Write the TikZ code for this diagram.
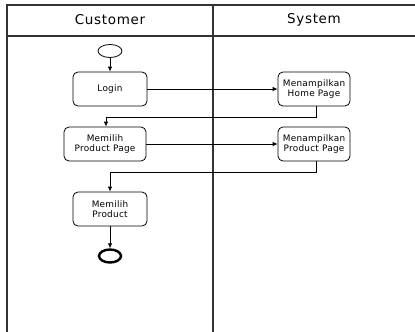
\documentclass[tikz,border=0pt]{standalone}
\usepackage{fontspec}
\setmainfont{DejaVu Sans}
\newfontfamily\hdrfont[LetterSpace=5]{DejaVu Sans}
\newfontfamily\nodefont[LetterSpace=3]{DejaVu Sans}
\usetikzlibrary{arrows.meta,shapes.geometric}
\tikzset{
  frame/.style={draw=black!80, line width=1.1pt},
  actbox/.style={draw=black, line width=0.8pt, rounded corners=5pt, minimum height=34pt, inner sep=1pt, align=center, font=\nodefont\fontsize{8.9}{9.8}\selectfont},
  hdr/.style={font=\hdrfont\fontsize{13.5}{15}\selectfont},
  arr/.style={draw=black, line width=0.8pt, -{Latex[length=5pt,width=4.5pt]}},
  startnode/.style={ellipse, draw=black, line width=0.8pt, minimum width=24pt, minimum height=13pt, inner sep=0pt},
  endnode/.style={ellipse, draw=black, line width=2.4pt, minimum width=22pt, minimum height=13pt, inner sep=0pt}
}
\begin{document}
\begin{tikzpicture}[x=1pt,y=-1pt]
\useasboundingbox (0,0) rectangle (415,332);
% swimlane frame
\coordinate (tl) at (7,5);
\coordinate (tr) at (415,5);
\coordinate (hl) at (7,36);
\coordinate (hr) at (415,36);
\coordinate (bl) at (7,332);
\coordinate (dt) at (213,5);
\coordinate (db) at (213,332);
\draw[frame] (tr) -- (tl) -- (bl);
\draw[frame] (hl) -- (hr);
\draw[frame] (dt) -- (db);
\node[hdr] (hcust) at (110,20) {Customer};
\node[hdr] (hsys) at (314,20) {System};
% nodes
\node[startnode] (start) at (110,51) {};
\node[actbox, minimum width=74pt] (login) at (110,89) {Login};
\node[actbox, minimum width=72pt] (home) at (314,89) {Menampilkan\\Home Page};
\node[actbox, minimum width=82pt] (mpp) at (105,144) {Memilih\\Product Page};
\node[actbox, minimum width=72pt] (tpp) at (314,144) {Menampilkan\\Product Page};
\node[actbox, minimum width=74pt] (mp) at (110,209) {Memilih\\Product};
\node[endnode] (end) at (110,256) {};
% connectors
\draw[arr] (start) -- (login);
\draw[arr] (login) -- (home);
\draw[arr] ([xshift=2pt]home.south) -- ++(0,11) -| ([xshift=1pt]mpp.north);
\draw[arr] (mpp) -- (tpp);
\draw[arr] ([xshift=2pt]tpp.south) -- ++(0,11) -| (mp.north);
\draw[arr] (mp) -- (end);
\end{tikzpicture}
\end{document}
